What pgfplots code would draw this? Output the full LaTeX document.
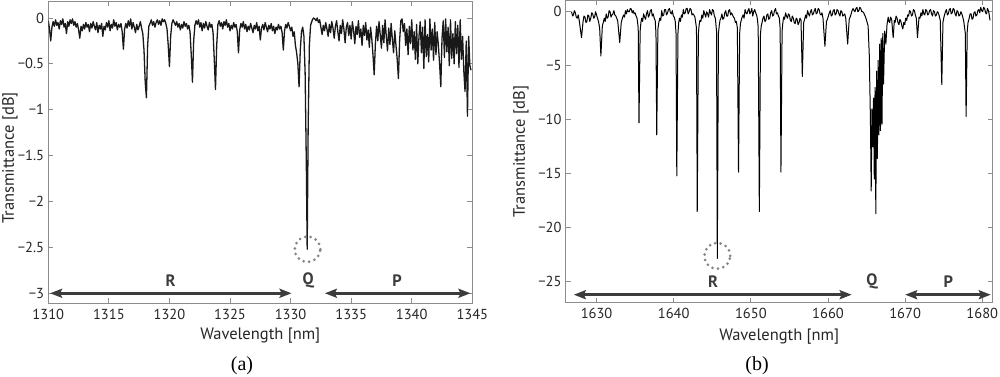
\documentclass[border=0pt]{standalone}
\usepackage{fontspec}
\setmainfont{PT Sans}
\newfontfamily\capfont{Liberation Serif}
\usepackage{pgfplots}
\pgfplotsset{compat=1.18}
\usetikzlibrary{arrows.meta}
\definecolor{boxgray}{HTML}{8C8C8C}
\definecolor{annot}{HTML}{3C3C3C}
\definecolor{circgray}{HTML}{858585}
\newcommand\labfont{\fontsize{16.5}{19}\selectfont}
\pgfplotsset{mystyle/.style={
  scale only axis,
  axis line style={boxgray, line width=0.9pt},
  tick style={boxgray, line width=0.9pt},
  major tick length=5pt,
  tick align=inside,
  tick pos=both,
  ticklabel style={font=\fontsize{14.5}{16}\selectfont, text=black!85},
  xticklabel style={inner sep=0pt, anchor=north, yshift=-5.5pt},
  yticklabel style={inner sep=0pt, anchor=east, xshift=-4pt},
  clip=true,
}}
\tikzset{dblarrow/.style={annot, line width=2.8pt, {Stealth[length=12pt,width=9pt,inset=2pt]}-{Stealth[length=12pt,width=9pt,inset=2pt]}},
  branch/.style={annot, font=\bfseries\fontsize{16.5}{18}\selectfont},
  dotcirc/.style={circgray, line width=3pt, line cap=round, dash pattern=on 0pt off 5.6pt}}
\begin{document}
\begin{tikzpicture}
\path[use as bounding box] (0,0) rectangle (1000pt,377pt);
\begin{axis}[mystyle, at={(48.3pt,74pt)}, anchor=south west, width=424pt, height=302pt,
  xmin=1310, xmax=1345, ymin=-3.106, ymax=0.185,
  xtick={1310,1315,1320,1325,1330,1335,1340,1345},
  xticklabels={1310,1315,1320,1325,1330,1335,1340,1345},
  ytick={-3,-2.5,-2,-1.5,-1,-0.5,0},
  yticklabels={−3,−2.5,−2,−1.5,−1,−0.5,0},
  xlabel={Wavelength [nm]}, ylabel={Transmittance [dB]},
  every axis x label/.style={at={(axis description cs:0.5,0)}, anchor=center, yshift=-33pt, font=\labfont, text=black!85},
  every axis y label/.style={at={(axis description cs:-0.0903,0.48)}, rotate=90, anchor=center, font=\labfont, text=black!85}]
\addplot[black!90, line width=1.3pt, line join=round] coordinates {
(1310.0,-0.03)(1310.1,-0.12)(1310.2,-0.25)(1310.3,-0.10)(1310.4,-0.04)(1310.5,-0.09)(1310.6,-0.02)(1310.7,-0.08)(1310.8,-0.05)(1310.9,-0.12)
(1311.0,-0.03)(1311.1,-0.07)(1311.2,-0.01)(1311.3,-0.10)(1311.4,-0.06)(1311.5,-0.17)(1311.6,-0.04)(1311.7,-0.09)(1311.8,-0.02)(1311.9,-0.06)
(1312.0,-0.01)(1312.1,-0.08)(1312.2,-0.04)(1312.3,-0.10)(1312.4,-0.06)(1312.5,-0.13)(1312.6,-0.22)(1312.7,-0.09)(1312.8,-0.14)(1312.9,-0.07)
(1313.0,-0.12)(1313.1,-0.05)(1313.2,-0.10)(1313.3,-0.07)(1313.4,-0.15)(1313.5,-0.06)(1313.6,-0.11)(1313.7,-0.04)(1313.8,-0.09)(1313.9,-0.13)
(1314.0,-0.05)(1314.1,-0.16)(1314.2,-0.08)(1314.3,-0.12)(1314.4,-0.06)(1314.5,-0.20)(1314.6,-0.09)(1314.7,-0.13)(1314.8,-0.05)(1314.9,-0.10)
(1315.0,-0.03)(1315.1,-0.14)(1315.2,-0.07)(1315.3,-0.11)(1315.4,-0.02)(1315.5,-0.09)(1315.6,-0.05)(1315.7,-0.13)(1315.8,-0.07)(1315.9,-0.10)
(1316.0,-0.06)(1316.1,-0.15)(1316.2,-0.34)(1316.3,-0.12)(1316.4,-0.06)(1316.5,-0.11)(1316.6,-0.03)(1316.7,-0.09)(1316.8,-0.01)(1316.9,-0.12)
(1317.0,-0.05)(1317.1,-0.10)(1317.2,-0.16)(1317.3,-0.07)(1317.4,-0.13)(1317.5,-0.09)(1317.6,-0.04)(1317.7,-0.11)(1317.8,-0.17)(1317.9,-0.35)
(1318.0,-0.70)(1318.1,-0.87)(1318.2,-0.30)(1318.3,-0.09)(1318.4,-0.06)(1318.5,-0.02)(1318.6,-0.08)(1318.7,-0.04)(1318.8,-0.10)(1318.9,-0.05)
(1319.0,-0.02)(1319.1,-0.07)(1319.2,-0.03)(1319.3,-0.08)(1319.4,-0.01)(1319.5,-0.04)(1319.6,-0.02)(1319.7,-0.06)(1319.8,-0.12)(1319.9,-0.30)
(1320.0,-0.53)(1320.1,-0.20)(1320.2,-0.06)(1320.3,-0.02)(1320.4,-0.05)(1320.5,-0.08)(1320.6,-0.04)(1320.7,-0.10)(1320.8,-0.06)(1320.9,-0.13)
(1321.0,-0.07)(1321.1,-0.11)(1321.2,-0.04)(1321.3,-0.09)(1321.4,-0.06)(1321.5,-0.12)(1321.6,-0.08)(1321.7,-0.15)(1321.8,-0.40)(1321.9,-0.70)
(1322.0,-0.25)(1322.1,-0.08)(1322.2,-0.03)(1322.3,-0.07)(1322.4,-0.02)(1322.5,-0.10)(1322.6,-0.05)(1322.7,-0.14)(1322.8,-0.06)(1322.9,-0.11)
(1323.0,-0.04)(1323.1,-0.09)(1323.2,-0.13)(1323.3,-0.05)(1323.4,-0.10)(1323.5,-0.07)(1323.6,-0.16)(1323.7,-0.45)(1323.8,-0.78)(1323.9,-0.30)
(1324.0,-0.07)(1324.1,-0.03)(1324.2,-0.09)(1324.3,-0.05)(1324.4,-0.12)(1324.5,-0.04)(1324.6,-0.08)(1324.7,-0.02)(1324.8,-0.10)(1324.9,-0.06)
(1325.0,-0.14)(1325.1,-0.08)(1325.2,-0.12)(1325.3,-0.05)(1325.4,-0.10)(1325.5,-0.07)(1325.6,-0.15)(1325.7,-0.38)(1325.8,-0.13)(1325.9,-0.06)
(1326.0,-0.10)(1326.1,-0.04)(1326.2,-0.12)(1326.3,-0.07)(1326.4,-0.15)(1326.5,-0.09)(1326.6,-0.13)(1326.7,-0.06)(1326.8,-0.11)(1326.9,-0.16)
(1327.0,-0.08)(1327.1,-0.12)(1327.2,-0.05)(1327.3,-0.14)(1327.4,-0.09)(1327.5,-0.24)(1327.6,-0.11)(1327.7,-0.07)(1327.8,-0.13)(1327.9,-0.05)
(1328.0,-0.10)(1328.1,-0.15)(1328.2,-0.08)(1328.3,-0.12)(1328.4,-0.06)(1328.5,-0.14)(1328.6,-0.09)(1328.7,-0.17)(1328.8,-0.10)(1328.9,-0.13)
(1329.0,-0.07)(1329.1,-0.12)(1329.2,-0.09)(1329.3,-0.16)(1329.4,-0.35)(1329.5,-0.14)(1329.6,-0.07)(1329.7,-0.11)(1329.8,-0.05)(1329.9,-0.09)
(1330.0,-0.14)(1330.1,-0.10)(1330.2,-0.20)(1330.3,-0.15)(1330.4,-0.30)(1330.5,-0.38)(1330.6,-0.50)(1330.7,-0.75)(1330.8,-0.35)(1330.9,-0.15)
(1331.0,-0.10)(1331.1,-0.20)(1331.2,-0.60)(1331.3,-1.60)(1331.37,-2.52)(1331.45,-1.20)(1331.55,-0.30)(1331.65,-0.08)(1331.8,-0.02)(1331.9,0.00)
(1332.0,-0.01)(1332.1,-0.03)(1332.2,0.00)(1332.3,-0.05)(1332.4,-0.02)(1332.5,-0.10)(1332.6,-0.18)(1332.7,-0.08)(1332.8,-0.14)(1332.9,-0.05)
(1333.0,-0.12)(1333.1,-0.20)(1333.2,-0.07)(1333.3,-0.16)(1333.4,-0.04)(1333.5,-0.11)(1333.6,-0.22)(1333.7,-0.09)(1333.8,-0.03)(1333.9,-0.15)
(1334.0,-0.25)(1334.1,-0.08)(1334.2,-0.17)(1334.3,-0.02)(1334.4,-0.12)(1334.5,-0.27)(1334.6,-0.10)(1334.7,-0.05)(1334.8,-0.19)(1334.9,-0.08)
(1335.0,-0.23)(1335.1,-0.04)(1335.2,-0.14)(1335.3,-0.28)(1335.4,-0.09)(1335.5,-0.18)(1335.6,-0.03)(1335.7,-0.21)(1335.8,-0.12)(1335.9,-0.30)
(1336.0,-0.08)(1336.1,-0.19)(1336.2,-0.05)(1336.3,-0.24)(1336.4,-0.13)(1336.5,-0.32)(1336.6,-0.10)(1336.7,-0.22)(1336.8,-0.40)(1336.9,-0.62)
(1337.0,-0.28)(1337.1,-0.09)(1337.2,-0.25)(1337.3,-0.04)(1337.4,-0.18)(1337.5,-0.33)(1337.6,-0.08)(1337.7,-0.27)(1337.8,-0.02)(1337.9,-0.20)
(1338.0,-0.36)(1338.1,-0.11)(1338.2,-0.29)(1338.3,-0.06)(1338.4,-0.23)(1338.5,-0.38)(1338.6,-0.14)(1338.7,-0.30)(1338.8,-0.45)(1338.9,-0.66)
(1339.0,-0.25)(1339.1,-0.03)(1339.2,-0.01)(1339.3,-0.15)(1339.4,-0.06)(1339.5,-0.30)(1339.6,-0.12)(1339.7,-0.40)(1339.8,-0.09)(1339.9,-0.28)
(1340.0,-0.02)(1340.1,-0.35)(1340.2,-0.15)(1340.3,-0.45)(1340.4,-0.07)(1340.5,-0.50)(1340.6,-0.20)(1340.7,-0.04)(1340.8,-0.38)(1340.9,-0.10)
(1341.0,-0.55)(1341.1,-0.02)(1341.2,-0.42)(1341.3,-0.18)(1341.4,-0.48)(1341.5,-0.01)(1341.6,-0.35)(1341.7,-0.12)(1341.8,-0.46)(1341.9,-0.05)
(1342.0,-0.40)(1342.1,-0.15)(1342.2,-0.30)(1342.3,-0.50)(1342.4,-0.75)(1342.5,-0.22)(1342.6,-0.03)(1342.7,-0.43)(1342.8,-0.01)(1342.9,-0.37)
(1343.0,-0.10)(1343.1,-0.52)(1343.2,-0.02)(1343.3,-0.44)(1343.4,-0.17)(1343.5,-0.50)(1343.6,-0.04)(1343.7,-0.39)(1343.8,-0.08)(1343.9,-0.54)
(1344.0,-0.02)(1344.1,-0.45)(1344.2,-0.20)(1344.3,-0.58)(1344.4,-0.80)(1344.5,-0.25)(1344.6,-1.07)(1344.7,-0.20)(1344.8,-0.52)(1344.9,-0.57)
};
\draw[dblarrow] (axis cs:1310.15,-3.0) -- (axis cs:1330.08,-3.0);
\draw[dblarrow] (axis cs:1332.83,-3.0) -- (axis cs:1344.85,-3.0);
\node[branch] at (axis cs:1320.1,-2.86) {R};
\node[branch] at (axis cs:1331.45,-2.86) {Q};
\node[branch] at (axis cs:1338.8,-2.86) {P};
\draw[dotcirc] (axis cs:1331.4,-2.52) circle[radius=12.8pt];
\end{axis}
\begin{axis}[mystyle, at={(565.7pt,74.3pt)}, anchor=south west, width=427pt, height=302.2pt,
  xmin=1626, xmax=1681.35, ymin=-26.94, ymax=1.04,
  xtick={1630,1640,1650,1660,1670,1680},
  xticklabels={1630,1640,1650,1660,1670,1680},
  ytick={-25,-20,-15,-10,-5,0},
  yticklabels={−25,−20,−15,−10,−5,0},
  xlabel={Wavelength [nm]}, ylabel={Transmittance [dB]},
  every axis x label/.style={at={(axis description cs:0.5,0)}, anchor=center, yshift=-34pt, font=\labfont, text=black!85},
  every axis y label/.style={at={(axis description cs:-0.105,0.5)}, rotate=90, anchor=center, font=\labfont, text=black!85}]
\addplot[black, line width=1.0pt, line join=round] coordinates {
(1626.75,0.0)(1626.9,-0.4)(1627.0,-0.3)(1627.12,0.1)(1627.25,-0.1)(1627.37,-0.5)(1627.5,-0.6)(1627.62,-0.3)(1627.75,-0.8)(1628.05,-2.4)(1628.25,-0.9)(1628.37,-0.4)(1628.5,-0.5)(1628.62,-1.0)(1628.75,-0.9)(1628.87,-0.3)(1629.0,-0.4)
(1629.12,-0.9)(1629.25,-0.6)(1629.37,-0.1)(1629.5,-0.2)(1629.62,-0.6)(1629.75,-0.5)(1629.87,0.0)(1630.0,-0.3)(1630.12,-0.6)(1630.25,-0.9)(1630.4,-1.5)(1630.56,-4.1)(1630.75,-1.3)(1630.87,-1.0)(1631.0,-0.6)(1631.12,-0.9)(1631.25,-0.2)
(1631.37,-0.6)(1631.5,-0.5)(1631.62,0.1)(1631.75,0.0)(1631.87,-0.5)(1632.0,-0.3)(1632.12,-0.2)(1632.25,0.1)(1632.37,-0.3)(1632.5,-0.4)(1632.62,-0.6)(1632.75,-0.9)(1633.0,-2.85)(1633.2,-1.0)(1633.35,-0.6)(1633.5,-0.3)(1633.62,-0.5)(1633.75,0.1)
(1633.87,-0.2)(1634.0,0.2)(1634.12,0.0)(1634.25,0.0)(1634.37,0.3)(1634.5,0.25)(1634.62,-0.1)(1634.75,0.1)(1634.87,-0.2)(1635.0,-0.1)(1635.12,-0.4)(1635.25,-0.6)(1635.4,-1.5)(1635.5,-10.3)(1635.65,-1.8)(1635.75,-1.0)(1635.85,-0.6)
(1635.97,-0.9)(1636.1,-0.2)(1636.22,-0.5)(1636.35,-0.7)(1636.47,-0.2)(1636.6,0.1)(1636.72,-0.5)(1636.85,-0.3)(1636.97,0.1)(1637.1,0.2)(1637.22,-0.4)(1637.35,-0.2)(1637.47,-0.6)(1637.6,-0.8)(1637.7,-2.0)(1637.8,-11.4)(1637.95,-1.6)
(1638.07,-1.0)(1638.2,-0.6)(1638.32,-0.8)(1638.45,0.1)(1638.57,-0.4)(1638.7,-0.3)(1638.82,0.2)(1638.95,0.2)(1639.07,-0.3)(1639.2,-0.1)(1639.32,0.2)(1639.45,0.3)(1639.57,-0.1)(1639.7,-0.2)(1639.82,0.1)(1639.95,-0.4)(1640.07,-0.5)(1640.2,-0.9)(1640.3,-2.0)
(1640.4,-15.2)(1640.55,-2.0)(1640.65,-1.0)(1640.75,-0.6)(1640.87,-0.9)(1641.0,-0.3)(1641.12,-0.5)(1641.25,0.2)(1641.37,-0.2)(1641.5,-0.1)(1641.62,0.3)(1641.75,0.3)(1641.87,-0.2)(1642.0,0.0)(1642.12,0.3)(1642.25,0.2)(1642.37,-0.3)(1642.5,-0.2)
(1642.62,-0.3)(1642.75,-0.5)(1642.95,-1.5)(1643.05,-18.5)(1643.2,-2.0)(1643.3,-1.2)(1643.4,-0.8)(1643.52,-0.9)(1643.65,-0.3)(1643.77,-0.6)(1643.9,0.1)(1644.02,-0.2)(1644.15,-0.5)(1644.27,0.0)(1644.4,-0.2)(1644.52,-0.5)(1644.65,0.2)
(1644.77,-0.1)(1644.9,-0.3)(1645.02,0.2)(1645.15,0.1)(1645.27,-0.4)(1645.4,-0.6)(1645.55,-1.8)(1645.65,-22.85)(1645.8,-2.0)(1645.9,-1.3)(1646.0,-0.8)(1646.12,-0.6)(1646.25,-0.2)(1646.37,-0.7)(1646.5,-0.6)(1646.62,-0.1)(1646.75,0.1)
(1646.87,-0.4)(1647.0,-0.4)(1647.12,0.1)(1647.25,0.2)(1647.37,-0.3)(1647.5,-0.1)(1647.62,-0.3)(1647.75,-0.5)(1647.87,-0.6)(1648.0,-1.0)(1648.12,-0.9)(1648.25,-1.5)(1648.4,-14.85)(1648.55,-2.0)(1648.65,-1.1)(1648.75,-0.8)(1648.87,-0.5)(1649.0,-0.3)
(1649.12,-0.6)(1649.25,0.2)(1649.37,-0.1)(1649.5,-0.2)(1649.62,0.1)(1649.75,0.3)(1649.87,-0.2)(1650.0,0.0)(1650.12,0.3)(1650.25,-0.4)(1650.37,0.0)(1650.5,0.2)(1650.62,-0.1)(1650.75,-0.3)(1650.85,-0.7)(1650.95,-1.4)(1651.1,-18.5)(1651.25,-2.0)
(1651.35,-1.3)(1651.45,-1.0)(1651.57,-0.6)(1651.7,-0.4)(1651.82,-0.9)(1651.95,-0.8)(1652.07,-0.3)(1652.2,-0.2)(1652.32,-0.7)(1652.45,-0.6)(1652.57,-0.1)(1652.7,0.1)(1652.82,-0.4)(1652.95,-0.3)(1653.07,0.1)(1653.2,0.3)(1653.32,-0.2)(1653.45,-0.1)(1653.57,-0.4)(1653.7,-0.6)
(1653.8,-1.6)(1653.9,-14.85)(1654.05,-1.8)(1654.15,-1.0)(1654.25,-0.5)(1654.37,-0.7)(1654.5,-0.1)(1654.62,-0.4)(1654.75,-0.6)(1654.87,-0.2)(1655.0,-0.3)(1655.12,-0.8)(1655.25,-0.9)(1655.37,-0.4)(1655.5,-0.6)(1655.62,-1.0)(1655.75,-1.1)
(1655.87,-0.6)(1656.0,-0.7)(1656.12,-1.2)(1656.25,-1.0)(1656.37,-0.6)(1656.5,-0.8)(1656.67,-6.0)(1656.85,-1.0)(1656.97,-0.7)(1657.1,-0.3)(1657.22,-0.6)(1657.35,0.1)(1657.47,-0.2)(1657.6,-0.4)(1657.72,0.0)(1657.85,0.2)(1657.97,-0.3)(1658.1,-0.2)
(1658.22,0.1)(1658.35,0.3)(1658.47,-0.2)(1658.6,-0.1)(1658.72,0.3)(1658.85,0.2)(1658.97,-0.2)(1659.1,-0.3)(1659.22,-0.1)(1659.35,-0.6)(1659.6,-3.2)(1659.8,-0.9)(1659.92,-0.7)(1660.05,-0.4)(1660.17,-0.1)(1660.3,0.1)(1660.42,-0.4)(1660.55,-0.3)
(1660.67,0.1)(1660.8,0.2)(1660.92,-0.3)(1661.05,-0.2)(1661.17,0.2)(1661.3,0.1)(1661.42,-0.2)(1661.55,-0.4)(1661.67,0.1)(1661.8,0.0)(1661.92,-0.4)(1662.05,-0.3)(1662.17,-0.2)(1662.3,-0.6)(1662.55,-3.0)(1662.75,-0.7)(1662.87,-0.5)(1663.0,-0.2)
(1663.12,0.1)(1663.25,0.3)(1663.37,0.1)(1663.5,0.0)(1663.62,0.3)(1663.75,0.4)(1663.87,0.0)(1664.0,0.1)(1664.12,0.4)(1664.25,0.3)(1664.37,0.0)(1664.5,0.0)(1664.62,-0.1)(1664.75,-0.3)(1664.87,-0.5)(1665.0,-0.8)(1665.2,-1.3)(1665.35,-4.0)
(1665.5,-10.0)(1665.6,-16.6)(1665.7,-9.0)(1665.8,-12.5)(1665.9,-8.0)(1666.0,-15.5)(1666.1,-7.0)(1666.2,-18.7)(1666.3,-5.5)(1666.4,-13.6)
(1666.5,-4.5)(1666.6,-11.4)(1666.7,-3.0)(1666.8,-11.0)(1666.9,-2.5)(1667.0,-10.4)(1667.1,-2.0)(1667.2,-6.7)(1667.35,-1.8)(1667.5,-3.0)
(1667.65,-1.2)(1667.8,-0.5)(1667.9,-0.9)(1668.0,-1.0)(1668.12,-0.5)(1668.25,-0.7)(1668.45,-2.4)(1668.6,-0.8)(1668.7,-1.0)(1668.82,-0.4)(1668.95,-0.6)(1669.07,-1.0)(1669.2,-1.2)(1669.32,-0.7)(1669.45,-0.9)(1669.57,-1.3)(1669.7,-1.6)
(1669.82,-1.0)(1669.95,-1.2)(1670.07,-0.6)(1670.2,-0.8)(1670.32,-0.3)(1670.45,-0.4)(1670.57,0.1)(1670.7,0.0)(1670.82,-0.4)(1670.95,-0.3)(1671.07,0.2)(1671.2,0.1)(1671.32,-0.3)(1671.45,-0.6)(1671.6,-2.4)(1671.8,-0.5)(1671.92,-0.6)(1672.05,-0.1)
(1672.17,-0.4)(1672.3,0.2)(1672.42,-0.2)(1672.55,-0.3)(1672.67,0.2)(1672.8,0.1)(1672.92,-0.3)(1673.05,-0.2)(1673.17,0.1)(1673.3,0.2)(1673.42,-0.2)(1673.55,-0.4)(1673.67,0.1)(1673.8,0.0)(1673.92,-0.4)(1674.05,-0.3)(1674.17,0.0)(1674.3,-0.1)(1674.42,-0.4)(1674.55,-0.8)
(1674.75,-6.75)(1674.9,-1.0)(1675.0,-0.6)(1675.1,-0.3)(1675.22,0.0)(1675.35,0.2)(1675.47,-0.3)(1675.6,-0.2)(1675.72,0.2)(1675.85,0.3)(1675.97,-0.2)(1676.1,-0.1)(1676.22,0.3)(1676.35,0.2)(1676.47,-0.2)(1676.6,-0.4)(1676.72,0.1)(1676.85,0.0)
(1676.97,-0.4)(1677.1,-0.3)(1677.22,0.0)(1677.35,-0.2)(1677.47,-0.5)(1677.6,-0.9)(1677.8,-2.0)(1677.9,-9.7)(1678.05,-1.8)(1678.15,-1.0)(1678.3,-0.6)(1678.42,-0.2)(1678.55,-0.2)(1678.67,-0.7)(1678.8,-0.6)(1678.92,-0.1)(1679.05,0.0)
(1679.17,-0.4)(1679.3,-0.3)(1679.42,0.1)(1679.55,0.2)(1679.67,-0.1)(1679.8,0.4)(1679.92,0.1)(1680.05,0.0)(1680.17,0.4)(1680.3,0.3)(1680.42,-0.1)(1680.55,-0.2)(1680.67,0.3)(1680.8,0.1)(1680.9,-0.3)(1681.0,-0.8)
};
\draw[dblarrow] (axis cs:1627.05,-26.2) -- (axis cs:1663.07,-26.2);
\draw[dblarrow] (axis cs:1670.0,-26.2) -- (axis cs:1681.1,-26.2);
\node[branch] at (axis cs:1645.1,-25.0) {R};
\node[branch] at (axis cs:1665.7,-25.0) {Q};
\node[branch] at (axis cs:1675.6,-25.0) {P};
\draw[dotcirc] (axis cs:1645.65,-22.6) circle[radius=13pt];
\end{axis}
\node[font=\capfont\fontsize{20}{22}\selectfont, anchor=center] at (242pt,11pt) {(a)};
\node[font=\capfont\fontsize{20}{22}\selectfont, anchor=center] at (757pt,11pt) {(b)};
\end{tikzpicture}
\end{document}
